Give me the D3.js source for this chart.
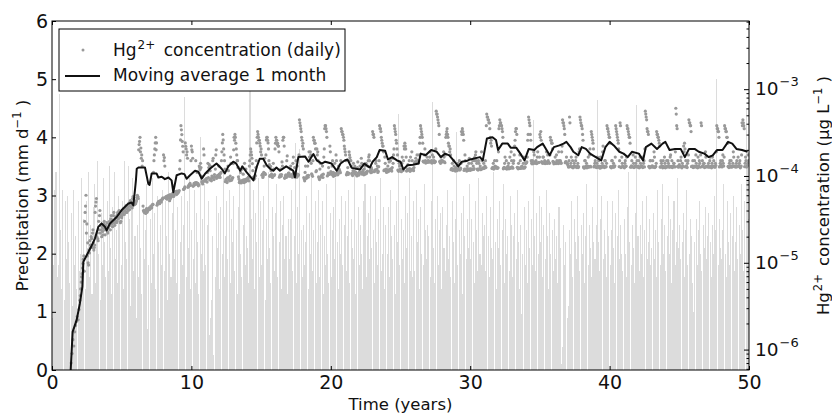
<!DOCTYPE html>
<html>
<head>
<meta charset="utf-8">
<script src="https://cdn.jsdelivr.net/npm/d3@7/dist/d3.min.js"></script>
<style>
body { margin: 0; background: #fff; }
svg { display: block; font-family: "DejaVu Sans", sans-serif; }
</style>
</head>
<body>
<script>
// monthly precipitation (mm/d), one row per year, years 0..49
var precipMonthly = [
 0.9,1.8,3.1,3.4,1.6,1.8,4.75,2.4,1.4,3.1,1.2,2.9,
 1.9,3.0,2.2,1.5,2.7,1.1,3.1,1.8,2.3,1.4,2.9,1.7,
 2.0,3.3,1.9,2.6,1.4,2.9,2.1,3.4,1.6,2.5,1.3,2.8,
 3.2,1.5,2.4,3.6,2.0,1.2,2.7,1.8,3.3,2.2,1.6,2.9,
 1.7,3.5,2.1,1.3,2.8,3.4,1.9,2.4,1.5,3.0,2.6,1.8,
 2.9,1.4,3.6,2.2,1.9,3.5,2.6,1.1,2.8,3.3,1.7,2.3,
 0.9,2.5,1.6,3.0,2.1,1.3,2.8,1.9,2.4,3.2,0.7,1.8,
 2.6,1.5,3.3,2.0,2.7,1.4,3.0,2.2,0.9,2.5,1.8,3.1,
 1.7,2.9,2.3,1.2,3.4,2.0,1.6,2.7,3.2,1.9,2.4,1.5,
 2.8,1.3,2.2,3.0,1.8,2.5,4.7,1.6,2.9,2.1,3.3,1.4,
 2.4,1.9,3.1,1.5,2.7,2.2,1.3,4.0,2.0,2.6,1.7,3.2,
 1.8,2.5,2.9,0.6,0.9,1.2,2.3,0.25,1.6,3.0,2.1,2.7,
 1.4,2.8,2.0,3.4,1.6,2.3,2.9,1.9,3.1,1.5,2.6,2.2,
 3.0,1.7,2.4,1.3,2.8,3.5,2.0,1.6,2.5,3.2,1.8,2.3,
 2.1,1.5,4.8,2.6,1.9,3.1,1.4,2.7,2.2,3.3,1.6,2.9,
 1.8,2.4,3.0,1.2,2.6,1.9,3.4,2.1,1.5,2.8,2.3,1.7,
 2.7,3.2,1.6,2.2,2.9,1.4,2.5,3.0,1.9,2.3,1.3,2.6,
 1.9,2.6,3.1,1.7,2.3,3.9,1.5,2.8,2.0,3.8,2.4,1.6,
 2.5,1.8,2.2,3.0,1.4,2.7,2.0,3.3,1.7,2.4,2.9,1.5,
 2.2,3.1,1.6,2.5,2.9,1.3,2.3,1.8,3.2,2.0,1.5,2.7,
 1.6,2.4,2.8,1.9,3.3,2.2,1.4,2.6,2.0,3.0,1.8,2.5,
 2.9,1.7,2.3,3.1,1.5,2.6,2.1,1.9,3.4,1.3,2.4,2.8,
 1.8,2.5,2.0,1.4,2.9,3.2,1.6,2.3,2.7,1.9,3.0,2.1,
 2.4,1.5,3.0,2.2,1.8,2.6,3.3,1.7,2.0,2.8,1.4,2.5,
 2.0,2.8,1.6,3.1,2.3,1.9,2.5,1.3,2.9,2.2,4.4,1.8,
 2.6,1.9,2.4,1.5,3.0,2.1,2.7,3.3,1.7,2.3,1.6,2.9,
 1.7,3.1,2.2,2.6,1.4,2.8,2.0,1.8,3.2,2.4,1.9,2.5,
 2.3,1.6,2.9,4.6,2.1,1.5,2.6,3.0,1.8,2.4,2.7,1.4,
 2.8,2.1,1.7,2.5,3.1,1.9,2.3,1.6,2.9,2.2,1.5,2.6,
 4.1,1.8,2.4,2.0,2.7,1.3,3.0,2.3,1.9,2.6,2.1,3.2,
 1.9,2.6,2.2,1.5,2.9,2.4,1.7,3.3,2.0,1.8,2.7,2.3,
 2.5,1.7,3.0,2.3,1.6,2.8,2.1,1.9,3.4,2.2,1.4,2.6,
 2.1,2.9,1.8,2.4,3.2,1.5,2.6,2.0,2.3,1.7,3.0,2.5,
 1.6,2.3,2.7,1.9,3.1,2.2,1.4,2.5,0.97,2.0,2.8,1.8,
 2.4,1.5,2.9,2.1,2.6,1.8,4.3,2.3,1.7,2.7,2.0,3.0,
 2.2,2.8,1.6,2.5,1.9,3.1,2.3,1.4,2.7,2.0,2.4,1.7,
 2.6,1.9,2.3,1.5,2.8,2.1,0.1,0.4,2.5,1.8,2.2,0.9,
 1.1,2.4,2.0,2.9,1.6,2.6,2.2,1.9,3.0,2.3,1.7,2.5,
 2.0,2.7,1.5,2.3,3.2,1.8,2.5,2.1,1.6,2.8,2.2,1.9,
 2.5,4.65,2.2,1.7,2.6,3.0,1.9,2.4,2.0,1.6,2.9,2.3,
 1.8,2.4,2.9,2.1,1.5,2.7,2.3,3.1,1.9,2.5,2.0,1.7,
 2.6,2.0,1.6,2.8,3.4,2.2,1.8,2.5,2.1,1.5,2.7,4.55,
 2.3,1.7,2.5,2.0,2.9,1.6,2.4,3.0,1.9,2.2,2.6,1.8,
 2.1,2.7,1.9,2.4,1.6,3.1,2.2,1.8,2.6,3.2,2.0,2.5,
 1.7,2.3,3.0,2.0,2.6,1.5,2.4,2.9,1.8,2.2,3.3,2.1,
 2.5,1.9,2.2,2.7,1.6,2.4,3.1,1.8,2.0,2.6,2.3,1.5,
 1.0,2.2,2.6,1.8,2.4,2.9,2.0,1.7,2.5,2.1,2.8,1.9,
 2.3,2.7,2.2,1.6,2.5,2.0,3.0,2.4,5.0,1.8,2.6,2.1,
 1.9,2.4,3.2,2.0,1.6,2.9,2.2,1.8,2.7,2.3,3.0,1.7,
 2.2,2.8,1.9,2.5,2.0,3.2,2.4,1.7,2.9,4.5,3.6,2.6
];

// daily Hg2+ concentration in pg/L, shown every 1/16 year from year 1 (null = no data yet)
var hgFirstYear = 1, hgPerYear = 16;
var hgConc = [
 null,null,null,null,null,null,0.7,0.9,1.3,1.1,1.6,1.9,2.1,2.4,2.2,2.9,
 3.7,5.0,6.9,8.7,11,8.0,38,60,28,17,9.4,13,16,20,15,24,
 14,16,45,55,22,18,24,40,27,20,23,25,30,21,26,29,
 22,26,30,24,35,28,31,38,27,33,29,36,32,40,34,30,
 33,37,42,36,40,45,38,44,48,41,52,46,43,58,50,47,
 48,52,60,55,230,279,210,175,150,40,38,39,41,38,40,42,
 41,43,44,46,47,150,205,279,240,48,50,49,51,52,53,55,
 175,163,56,58,54,57,60,52,55,58,60,62,59,64,66,61,
 63,65,68,150,380,300,220,70,72,240,205,190,74,76,80,78,
 221,190,76,82,79,150,84,80,77,130,119,125,86,81,205,88,
 87,92,85,140,125,90,129,88,95,160,91,98,175,94,101,97,
 105,96,110,190,301,205,150,86,92,84,130,96,88,165,89,94,
 139,279,301,239,175,150,98,84,88,83,120,85,90,140,86,92,
 90,95,88,150,205,175,139,96,92,99,125,240,325,279,258,221,
 205,102,96,110,160,104,260,279,240,150,99,129,105,96,140,101,
 205,279,258,239,221,97,103,99,145,258,279,94,101,96,170,105,
 108,99,130,104,97,165,110,101,150,97,105,103,443,380,325,258,
 239,96,88,130,94,101,97,190,150,175,106,99,279,258,239,112,
 205,190,98,91,140,99,103,96,165,351,380,325,100,108,104,221,
 112,104,150,99,108,101,175,107,103,130,116,109,351,325,300,258,
 205,175,103,110,104,190,163,150,107,101,140,113,106,122,100,145,
 102,112,108,160,105,117,103,130,110,107,114,150,175,113,109,119,
 325,301,112,118,150,120,110,128,380,351,279,239,221,115,165,116,
 110,118,112,145,116,121,114,160,175,380,325,258,205,117,113,130,
 119,112,165,116,221,239,205,114,120,117,150,113,118,190,121,115,
 139,146,142,175,145,150,239,380,325,279,148,144,205,141,147,143,
 150,144,190,145,141,148,165,142,146,558,516,443,380,146,140,150,
 150,146,165,142,279,325,301,239,221,205,118,122,116,150,120,114,
 119,115,140,121,117,123,325,351,301,116,175,120,114,122,118,160,
 116,121,118,150,119,163,175,150,120,117,140,122,118,190,121,124,
 122,130,125,516,478,443,410,279,258,122,126,120,150,124,127,122,
 124,351,443,410,380,325,121,126,165,123,120,127,140,122,125,190,
 127,123,150,221,325,351,126,121,124,175,122,128,125,140,123,127,
 140,145,258,478,410,301,150,138,143,190,141,146,139,165,142,144,
 301,325,146,140,165,143,139,145,141,175,144,140,279,258,239,147,
 138,143,140,175,145,139,150,141,144,190,443,410,351,142,146,140,
 135,126,478,129,165,127,124,130,128,150,126,131,125,190,478,410,
 380,301,127,123,150,128,124,130,126,175,129,325,279,239,127,140,
 128,125,165,130,127,123,129,126,190,131,125,150,128,380,351,301,
 279,127,124,150,130,126,131,380,325,279,239,128,410,125,165,129,
 128,124,150,130,380,351,301,279,126,131,127,175,125,129,140,130,
 126,130,124,165,128,131,125,140,127,558,478,351,325,129,124,150,
 128,131,126,190,125,129,325,301,279,239,127,150,130,124,128,165,
 124,129,127,150,131,126,175,128,125,130,140,127,603,380,129,126,
 135,128,165,124,130,221,239,127,131,125,150,443,410,380,128,130,
 125,130,127,175,129,124,131,150,126,410,128,132,140,125,190,129,
 127,131,126,150,129,124,165,128,130,126,132,380,351,325,127,140,
 138,127,175,130,380,351,325,279,129,125,150,131,126,128,190,130,
 130,126,150,129,131,140,124,130,410,443,380,128,165,127,132,175
];
// the days in between the samples above, from year 2 (pg/L)
var hgFirstYearB = 2;
var hgConcB = [
 4.2,6.0,7.5,9.8,12,30,45,22,12,10,14,18,15,19,22,17,
 15,38,50,20,19,30,35,22,24,26,21,28,24,27,25,23,
 25,28,27,32,30,26,35,29,31,34,30,38,33,36,29,35,
 35,39,40,43,38,46,42,40,45,50,44,48,55,46,52,49,
 50,56,58,200,250,190,160,130,45,39,40,37,42,39,41,43,
 42,45,43,47,110,175,240,200,46,49,51,48,52,50,54,56,
 150,130,57,55,59,56,58,61,57,60,63,58,62,65,63,67,
 64,66,120,260,340,250,190,71,75,220,175,160,77,79,82,150,
 200,160,78,80,84,81,110,82,79,125,140,100,83,87,175,90,
 89,94,110,96,135,115,93,100,150,97,104,120,200,98,102,130,
 100,107,150,240,260,175,120,90,87,95,115,91,100,140,93,96,
 200,258,279,205,150,125,92,87,110,85,89,105,84,91,120,88,
 93,97,130,175,190,160,115,97,94,101,150,279,301,258,239,190,
 175,105,100,130,107,175,279,258,205,135,102,115,98,100,120,104,
 239,258,230,221,190,100,120,104,130,279,221,97,103,150,99,108,
 104,120,102,98,140,106,125,103,99,130,101,175,410,351,279,221,
 205,92,110,95,98,130,102,165,190,140,103,150,258,239,205,115,
 175,150,95,120,97,101,130,105,205,380,351,279,102,125,106,190,
 108,130,110,102,140,105,150,110,106,120,112,150,325,301,279,221,
 190,150,106,125,108,175,150,130,104,115,109,130,111,103,125,108,
 106,130,110,140,112,109,120,105,140,111,130,165,150,116,125,111,
 301,279,115,140,117,130,113,150,351,325,258,221,190,118,140,120,
 114,130,116,119,150,117,125,140,205,351,301,239,175,115,140,119,
 117,140,118,150,205,221,165,116,135,119,122,165,117,150,118,125,
 143,160,147,150,141,175,279,351,301,239,146,175,150,145,165,149,
 147,165,146,150,175,143,150,147,205,516,478,410,301,148,165,145,
 148,190,145,175,301,351,279,221,190,175,121,140,119,130,117,125,
 117,130,120,150,119,140,301,325,258,120,150,118,130,116,140,121,
 119,140,120,130,122,150,190,140,119,150,121,130,120,150,123,140,
 125,150,380,478,443,410,351,239,221,124,140,122,130,125,150,124,
 190,380,410,380,351,279,124,140,122,150,125,130,121,165,123,150,
 125,140,175,258,351,301,124,140,122,150,125,130,123,165,126,140,
 142,165,301,443,380,258,141,150,139,175,144,150,140,190,143,165,
 279,258,143,165,141,150,144,190,140,150,142,175,258,239,205,145,
 141,165,139,150,143,190,142,150,140,221,410,380,301,145,165,141,
 130,150,410,140,127,150,126,140,129,165,125,140,128,205,443,380,
 351,258,125,150,129,140,126,165,128,205,127,301,258,205,130,150,
 127,140,126,150,129,165,125,140,221,128,150,127,140,351,325,279,
 239,128,150,126,140,129,165,351,301,258,205,150,380,127,140,128,
 126,140,129,165,351,325,279,239,127,150,128,140,126,165,129,150,
 128,150,126,140,129,165,127,150,205,516,443,325,301,128,150,126,
 129,150,127,165,128,140,301,279,258,221,126,140,129,150,127,140,
 126,150,128,140,127,165,129,150,127,140,128,190,516,351,150,128,
 130,150,127,140,129,190,205,150,128,140,175,410,380,325,129,150,
 127,150,128,140,126,165,129,140,175,380,150,128,140,127,165,128,
 129,140,127,165,128,140,130,150,127,140,190,351,325,279,129,150,
 131,150,140,165,351,325,279,239,128,140,127,150,129,140,165,128,
 129,140,128,165,130,150,127,175,380,410,351,140,150,128,140,150
];

// 1-month moving average (years, pg/L)
var avgYears = [1.34,1.48,1.77,2.00,2.18,2.25,2.49,2.85,3.08,3.32,
 3.56,3.80,3.92,4.16,4.64,5.00,5.47,5.70,5.83,5.95,
 6.02,6.08,6.20,6.67,6.91,7.00,7.15,7.50,7.63,7.87,
 8.10,8.35,8.58,8.70,8.94,9.30,9.50,9.66,9.90,10.26,
 10.50,10.74,11.00,11.33,11.80,12.17,12.40,12.65,13.00,13.20,
 13.50,13.65,13.97,14.45,14.70,14.90,15.15,15.40,15.65,15.88,
 16.10,16.35,16.80,17.30,17.43,17.67,18.15,18.40,18.75,19.00,
 19.35,19.60,20.06,20.42,20.70,21.00,21.20,21.50,22.10,22.40,
 22.80,23.00,23.30,23.50,23.90,24.10,24.40,24.75,25.00,25.20,
 25.50,25.90,26.30,26.45,26.80,27.20,27.60,27.90,28.20,28.50,
 28.80,29.15,29.40,29.80,30.00,30.70,30.90,31.20,31.60,31.85,
 32.00,32.30,32.70,32.90,33.30,33.60,33.90,34.20,34.60,34.80,
 35.20,35.70,36.00,36.40,36.70,36.90,37.20,37.40,37.75,38.00,
 38.30,38.60,38.80,39.40,39.70,40.00,40.30,40.70,41.00,41.30,
 41.60,42.10,42.40,42.60,43.00,43.40,43.80,44.00,44.30,44.70,
 45.10,45.40,45.70,46.10,46.40,46.80,47.10,47.40,47.70,48.10,
 48.50,48.80,49.10,49.50,49.90];
var avgConc = [0.58,1.6,2.2,3.4,5.3,10.3,12.2,15.8,19.0,25.9,
 28.4,25.9,23.6,28.4,33.7,40.5,48.0,49.5,45.9,68.5,
 89,121,125,125,81,79,107,107,96,98,
 92,96,89,65,102,107,105,93,102,115,
 112,93,107,121,139,121,107,129,146,140,
 115,129,110,89,129,158,158,133,121,115,
 125,115,129,115,96,165,168,146,179,151,
 139,146,139,115,139,151,155,124,119,139,
 125,146,165,199,195,155,165,151,146,119,
 133,135,139,181,173,199,190,165,181,173,
 151,129,146,150,155,165,151,271,279,260,
 199,236,236,212,212,181,151,205,199,215,
 236,173,215,225,236,247,215,190,173,215,
 205,181,173,151,215,247,225,190,181,165,
 190,181,151,215,236,205,236,247,199,205,
 205,165,205,205,190,181,165,173,199,199,
 247,236,205,199,190];

var xTicks = [0, 10, 20, 30, 40, 50];
var precipTicks = [0, 1, 2, 3, 4, 5, 6];
var hgTicks = [1e-6, 1e-5, 1e-4, 1e-3];
var hgTickExp = ["\u22126", "\u22125", "\u22124", "\u22123"];

var width = 832, height = 415;
var plotL = 52, plotR = 749, plotT = 21, plotB = 370;

var svg = d3.select("body").append("svg")
    .attr("width", width).attr("height", height);

var x = d3.scaleLinear().domain([0, 50]).range([plotL, plotR]);
var yP = d3.scaleLinear().domain([0, 6]).range([plotB, plotT]);
// right axis in ug/L
var yH = d3.scaleLog().domain([5.82e-7, 6.1e-3]).range([plotB, plotT]);
var pgToUg = 1e-6;

svg.append("clipPath").attr("id", "plot")
    .append("rect").attr("x", plotL).attr("y", plotT)
    .attr("width", plotR - plotL).attr("height", plotB - plotT);

var plot = svg.append("g").attr("clip-path", "url(#plot)");

// precipitation bars, snapped to whole pixels
function barLeft(i) { return Math.round(x(i / 12)); }
plot.append("g").selectAll("rect").data(precipMonthly).enter()
    .append("rect")
    .attr("x", function(d, i) { return barLeft(i); })
    .attr("y", function(d) { return Math.round(yP(d)); })
    .attr("width", function(d, i) { return Math.max(1, Math.round(x((i + 0.88) / 12)) - barLeft(i)); })
    .attr("height", function(d) { return plotB - Math.round(yP(d)); })
    .attr("fill", "#dcdcdc")
    .attr("shape-rendering", "crispEdges");

// daily concentration dots
var hgPoints = [];
hgConc.forEach(function(v, i) {
    if (v != null) hgPoints.push({t: hgFirstYear + i / hgPerYear, c: v * pgToUg});
});
hgConcB.forEach(function(v, i) {
    hgPoints.push({t: hgFirstYearB + (i + 0.5) / hgPerYear, c: v * pgToUg});
});
plot.append("g").selectAll("circle").data(hgPoints).enter()
    .append("circle")
    .attr("cx", function(d) { return x(d.t); })
    .attr("cy", function(d) { return yH(d.c); })
    .attr("r", 1.6)
    .attr("fill", "#999");

// moving average
var avg = avgYears.map(function(t, i) { return [t, avgConc[i] * pgToUg]; });
plot.append("path")
    .attr("d", d3.line()
        .x(function(d) { return x(d[0]); })
        .y(function(d) { return yH(d[1]); })(avg))
    .attr("fill", "none")
    .attr("stroke", "#111")
    .attr("stroke-width", 2)
    .attr("stroke-linejoin", "round");

// frame
svg.append("rect")
    .attr("x", plotL).attr("y", plotT)
    .attr("width", plotR - plotL).attr("height", plotB - plotT)
    .attr("fill", "none").attr("stroke", "#000").attr("stroke-width", 1);

function styleAxis(g, size) {
    g.select(".domain").remove();
    g.attr("font-family", null).attr("font-size", size).attr("color", "#000");
    g.selectAll("text").attr("fill", "#111");
}

svg.append("g").attr("transform", "translate(0," + plotB + ")")
    .call(d3.axisBottom(x).tickValues(xTicks).tickSize(-4).tickPadding(6).tickFormat(d3.format("d")))
    .call(styleAxis, 19);
svg.append("g").attr("transform", "translate(0," + plotT + ")")
    .call(d3.axisTop(x).tickValues(xTicks).tickSize(-4).tickFormat(""))
    .call(styleAxis, 19);
svg.append("g").attr("transform", "translate(" + plotL + ",0)")
    .call(d3.axisLeft(yP).tickValues(precipTicks).tickSize(-4).tickPadding(4).tickFormat(d3.format("d")))
    .call(styleAxis, 19);

var minorTicks = [];
[-7, -6, -5, -4, -3].forEach(function(k) {
    for (var m = 2; m <= 9; m++) {
        var v = m * Math.pow(10, k);
        if (v > yH.domain()[0] && v < yH.domain()[1]) minorTicks.push(v);
    }
});
svg.append("g").attr("transform", "translate(" + plotR + ",0)")
    .call(d3.axisRight(yH).tickValues(minorTicks).tickSize(-2.5).tickFormat(""))
    .call(styleAxis, 18);
svg.append("g").attr("transform", "translate(" + plotR + ",0)")
    .call(d3.axisRight(yH).tickValues(hgTicks).tickSize(-5).tickFormat(""))
    .call(styleAxis, 18);

// text with superscript parts: [string, isSup, dx]
function richText(g, parts, size, supSize, rise) {
    var t = g.append("text").attr("font-size", size).attr("fill", "#111");
    var up = false;
    parts.forEach(function(p) {
        var s = t.append("tspan").text(p[0]);
        if (p[2]) s.attr("dx", p[2]);
        if (p[1]) {
            s.attr("font-size", supSize);
            if (!up) { s.attr("dy", -rise); up = true; }
        } else if (up) {
            s.attr("dy", rise); up = false;
        }
    });
    return t;
}

hgTicks.forEach(function(v, i) {
    var g = svg.append("g").attr("transform", "translate(" + (plotR + 6) + "," + (yH(v) + 6) + ")");
    richText(g, [["10"], [hgTickExp[i], true, 1]], 18.5, 13, 9);
});

svg.append("text")
    .attr("x", (plotL + plotR) / 2).attr("y", 410)
    .attr("text-anchor", "middle").attr("font-size", 16.5).attr("fill", "#111")
    .text("Time (years)");

var yl = svg.append("g").attr("transform", "translate(28," + (plotT + plotB) / 2 + ") rotate(-90)");
richText(yl, [["Precipitation (mm d"], ["\u22121", true], [" )"]], 16.5, 11.5, 7)
    .attr("text-anchor", "middle");

var yr = svg.append("g").attr("transform", "translate(829," + (plotT + plotB) / 2 + ") rotate(-90)");
richText(yr, [["Hg"], ["2+", true, 1], [" concentration (\u03bcg L", false, 3], ["\u22121", true], [" )"]], 16.5, 11.5, 7)
    .attr("text-anchor", "middle");

// legend
var leg = svg.append("g");
leg.append("rect")
    .attr("x", 59).attr("y", 29).attr("width", 286).attr("height", 62)
    .attr("fill", "#fff").attr("stroke", "#000").attr("stroke-width", 1);
leg.append("circle").attr("cx", 83).attr("cy", 50).attr("r", 1.5).attr("fill", "#999");
leg.append("line")
    .attr("x1", 65).attr("x2", 100).attr("y1", 76).attr("y2", 76)
    .attr("stroke", "#111").attr("stroke-width", 2);
var l1 = leg.append("g").attr("transform", "translate(113,56)");
richText(l1, [["Hg"], ["2+", true, 1], [" concentration (daily)", false, 3]], 17, 12, 7);
var l2 = leg.append("g").attr("transform", "translate(113,81)");
richText(l2, [["Moving average 1 month"]], 17, 12, 7);
</script>
</body>
</html>
